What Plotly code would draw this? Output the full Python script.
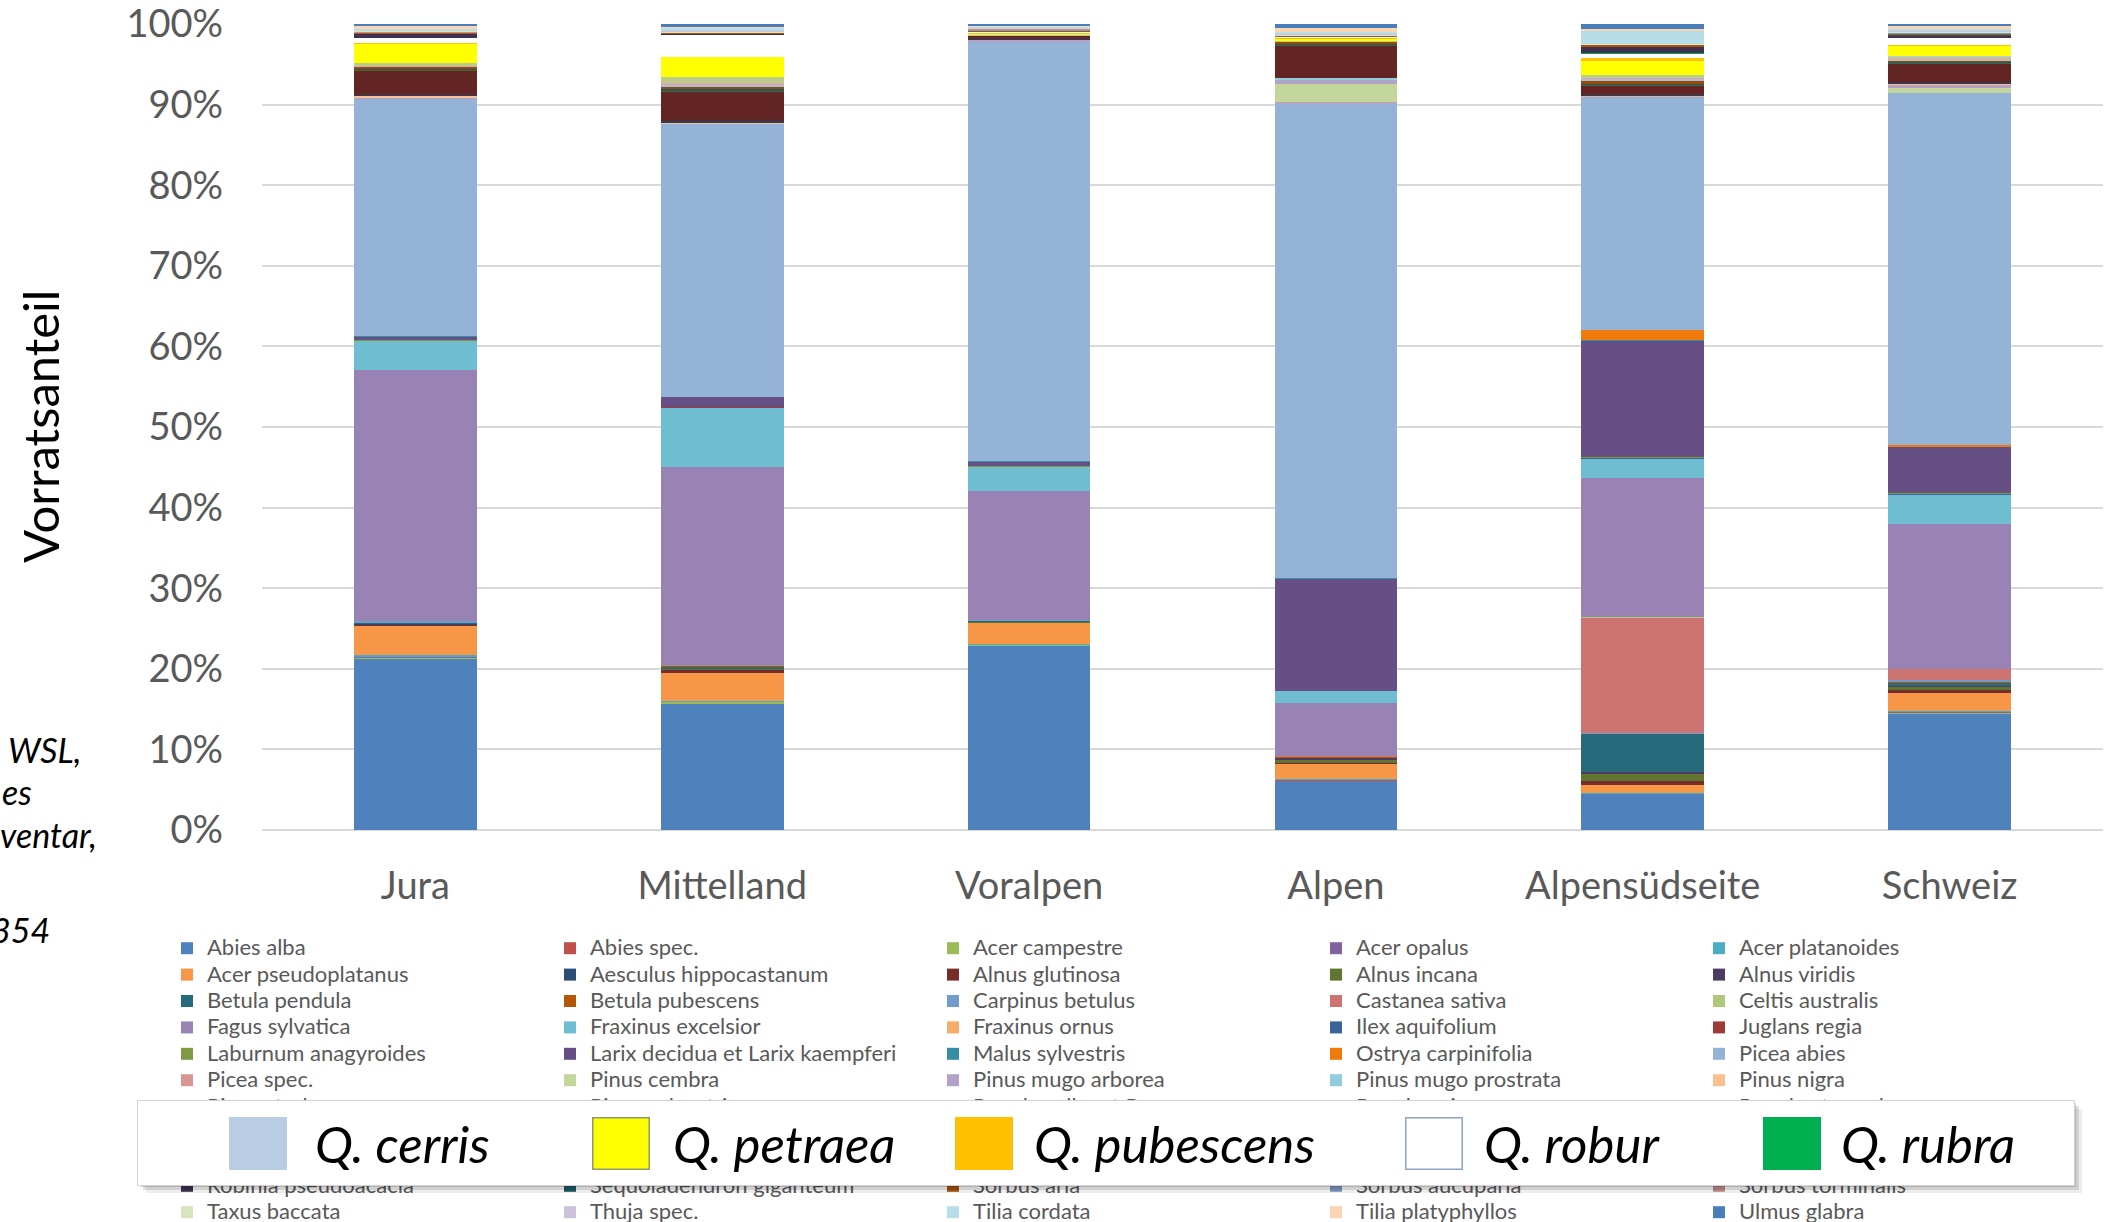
import plotly.graph_objects as go

W, H = 2114, 1222
PL, PR, PT, PB = 262, 2103, 24, 830

regions = ["Jura", "Mittelland", "Voralpen", "Alpen", "Alpensüdseite", "Schweiz"]

species = [
    "Abies alba", "Abies spec.", "Acer campestre", "Acer opalus", "Acer platanoides",
    "Acer pseudoplatanus", "Aesculus hippocastanum", "Alnus glutinosa", "Alnus incana", "Alnus viridis",
    "Betula pendula", "Betula pubescens", "Carpinus betulus", "Castanea sativa", "Celtis australis",
    "Fagus sylvatica", "Fraxinus excelsior", "Fraxinus ornus", "Ilex aquifolium", "Juglans regia",
    "Laburnum anagyroides", "Larix decidua et Larix kaempferi", "Malus sylvestris", "Ostrya carpinifolia", "Picea abies",
    "Picea spec.", "Pinus cembra", "Pinus mugo arborea", "Pinus mugo prostrata", "Pinus nigra",
    "Pinus strobus", "Pinus sylvestris", "Populus alba et P. canescens", "Populus nigra", "Populus tremula",
    "Prunus avium", "Prunus padus", "Prunus spec.", "Pseudotsuga menziesii", "Quercus cerris",
    "Quercus petraea", "Quercus pubescens", "Quercus robur", "Quercus rubra", "Quercus spec.",
    "Robinia pseudoacacia", "Sequoiadendron giganteum", "Sorbus aria", "Sorbus aucuparia", "Sorbus torminalis",
    "Taxus baccata", "Thuja spec.", "Tilia cordata", "Tilia platyphyllos", "Ulmus glabra",
]

colors = [
    "#4F81BD", "#C0504D", "#9BBB59", "#8064A2", "#4BACC6",
    "#F79646", "#2C4D75", "#772C2A", "#5F7530", "#4D3B62",
    "#276A7C", "#B65708", "#729ACA", "#CD7371", "#AFC97A",
    "#9983B5", "#6FBDD1", "#F9AB6B", "#3A6398", "#9E3B38",
    "#7E9A45", "#664F84", "#358DA5", "#F17A0C", "#95B3D7",
    "#D99694", "#C3D69B", "#B3A2C7", "#93CDDD", "#FAC090",
    "#254061", "#632523", "#4F6228", "#3F3151", "#215968",
    "#984807", "#A7BFDE", "#E2A9A7", "#BBCC8A", "#B8CCE4",
    "#FFFF00", "#FFC000", "#FFFFFF", "#00B050", "#8AA15C",
    "#403152", "#1F5B6A", "#A9550F", "#7E9CC8", "#C4908E",
    "#D7E4BD", "#CCC1DA", "#B7DEE8", "#FCD5B5", "#4A7EBB",
]

jura = [
    21.3, 0.05, 0.1, 0.1, 0.2, 3.7,
    0.05, 0.1, 0.05, 0.0, 0.1, 0.0,
    0.2, 0.0, 0.0, 31.2, 3.7, 0.0,
    0.0, 0.02, 0.05, 0.4, 0.02, 0.0,
    29.6, 0.0, 0.0, 0.05, 0.0, 0.3,
    0.05, 3.1, 0.05, 0.05, 0.1, 0.2,
    0.1, 0.05, 0.3, 0.0, 2.4, 0.05,
    0.7, 0.02, 0.0, 0.4, 0.0, 0.25,
    0.05, 0.05, 0.15, 0.0, 0.2, 0.3,
    0.3,
]
mittelland = [
    15.8, 0.05, 0.15, 0.02, 0.1, 3.5,
    0.02, 0.4, 0.05, 0.0, 0.3, 0.02,
    0.3, 0.05, 0.0, 24.6, 7.4, 0.0,
    0.02, 0.05, 0.02, 1.2, 0.03, 0.0,
    34.1, 0.02, 0.0, 0.0, 0.0, 0.1,
    0.15, 3.7, 0.1, 0.05, 0.2, 0.3,
    0.2, 0.2, 0.8, 0.02, 2.5, 0.02,
    2.7, 0.1, 0.0, 0.1, 0.02, 0.05,
    0.05, 0.02, 0.1, 0.02, 0.5, 0.05,
    0.35,
]
voralpen = [
    22.9, 0.02, 0.05, 0.05, 0.1, 2.6,
    0.0, 0.05, 0.1, 0.05, 0.05, 0.02,
    0.05, 0.0, 0.0, 16.1, 3.0, 0.0,
    0.05, 0.0, 0.05, 0.5, 0.02, 0.0,
    52.1, 0.0, 0.02, 0.25, 0.02, 0.02,
    0.02, 0.4, 0.02, 0.02, 0.05, 0.02,
    0.02, 0.02, 0.05, 0.0, 0.15, 0.02,
    0.2, 0.0, 0.0, 0.02, 0.0, 0.1,
    0.15, 0.02, 0.1, 0.02, 0.15, 0.05,
    0.3,
]
alpen = [
    6.2, 0.02, 0.02, 0.02, 0.05, 2.0,
    0.0, 0.05, 0.45, 0.15, 0.1, 0.05,
    0.02, 0.05, 0.0, 6.6, 1.5, 0.0,
    0.0, 0.0, 0.05, 13.9, 0.02, 0.0,
    59.15, 0.02, 2.3, 0.55, 0.2, 0.02,
    0.0, 4.0, 0.1, 0.05, 0.1, 0.2,
    0.02, 0.02, 0.05, 0.0, 0.3, 0.1,
    0.15, 0.0, 0.0, 0.02, 0.0, 0.05,
    0.1, 0.02, 0.05, 0.02, 0.35, 0.45,
    0.5,
]
alpensuedseite = [
    4.5, 0.02, 0.05, 0.02, 0.05, 1.0,
    0.02, 0.5, 0.8, 0.3, 4.7, 0.05,
    0.05, 14.4, 0.05, 17.3, 2.4, 0.1,
    0.05, 0.05, 0.1, 14.5, 0.02, 1.2,
    29.0, 0.1, 0.05, 0.02, 0.02, 0.02,
    0.05, 1.25, 0.05, 0.05, 0.05, 0.4,
    0.33, 0.05, 0.37, 0.02, 1.65, 0.45,
    0.5, 0.05, 0.0, 0.8, 0.02, 0.25,
    0.05, 0.02, 0.05, 0.02, 1.6, 0.25,
    0.6,
]
schweiz = [
    14.6, 0.05, 0.1, 0.05, 0.1, 2.3,
    0.02, 0.3, 0.4, 0.1, 0.5, 0.05,
    0.2, 1.4, 0.02, 18.1, 3.7, 0.05,
    0.05, 0.05, 0.05, 5.8, 0.02, 0.2,
    44.1, 0.05, 0.6, 0.35, 0.1, 0.1,
    0.05, 2.5, 0.05, 0.05, 0.1, 0.15,
    0.1, 0.1, 0.3, 0.05, 1.3, 0.1,
    0.9, 0.05, 0.0, 0.2, 0.02, 0.25,
    0.1, 0.05, 0.1, 0.02, 0.35, 0.25,
    0.3,
]

y_ticks = [0, 10, 20, 30, 40, 50, 60, 70, 80, 90, 100]
y_ticktext = ["0%", "10%", "20%", "30%", "40%", "50%", "60%", "70%", "80%", "90%", "100%"]

quercus_labels = ["Q. cerris", "Q. petraea", "Q. pubescens", "Q. robur", "Q. rubra"]
quercus_colors = ["#B8CCE4", "#FFFF00", "#FFC000", "#FFFFFF", "#00B050"]
quercus_borders = ["#B8CCE4", "#8C9A6A", "#FFC000", "#8EA4C4", "#00B050"]

region_values = [jura, mittelland, voralpen, alpen, alpensuedseite, schweiz]


def px_x(px):
    return (px - PL) / (PR - PL)


def px_y(py):
    return (PB - py) / (PB - PT)


fig = go.Figure()
for i, name in enumerate(species):
    fig.add_trace(go.Bar(
        x=regions,
        y=[vals[i] for vals in region_values],
        name='<span style="font-size:22px">' + name + "</span>",
        marker=dict(color=colors[i], line=dict(width=0)),
        hoverinfo="skip",
    ))

annotations = []
# y axis title
annotations.append(dict(
    text="Vorratsanteil", xref="paper", yref="paper", x=px_x(40), y=0.5,
    xanchor="center", yanchor="middle", textangle=-90, showarrow=False,
    font=dict(family="Lato", size=49, color="#000000"),
))
# cut-off source text on the left
for txt, right, cy in [("WSL,", 82, 749), ("es", 33, 791), ("ventar,", 98, 834), ("354", 51, 929)]:
    annotations.append(dict(
        text="<i>" + txt + "</i>", xref="paper", yref="paper", x=px_x(right), y=px_y(cy),
        xanchor="right", yanchor="middle", showarrow=False, borderpad=0,
        font=dict(family="Lato", size=34, color="#000000"),
    ))

# overlay legend box (shadow + white box)
bx0, bx1, by0, by1 = 137, 2073, 1100, 1184
for off, col in [(9, "rgba(0,0,0,0.07)"), (6, "rgba(0,0,0,0.12)"), (3, "rgba(0,0,0,0.15)")]:
    annotations.append(dict(
        text="", xref="paper", yref="paper", x=px_x(bx0 + off), y=px_y(by0 + off),
        xanchor="left", yanchor="top", showarrow=False, width=bx1 - bx0, height=by1 - by0,
        bgcolor=col, borderpad=0, borderwidth=0,
    ))
annotations.append(dict(
    text="", xref="paper", yref="paper", x=px_x(bx0), y=px_y(by0),
    xanchor="left", yanchor="top", showarrow=False, width=bx1 - bx0, height=by1 - by0,
    bgcolor="#FFFFFF", bordercolor="#D4D4D4", borderwidth=1, borderpad=0,
))
sw_left = [229, 592, 955, 1405, 1763]
tx_left = [314, 672, 1033, 1483, 1840]
for k, lab in enumerate(quercus_labels):
    annotations.append(dict(
        text="", xref="paper", yref="paper", x=px_x(sw_left[k]), y=px_y(1117),
        xanchor="left", yanchor="top", showarrow=False, width=55, height=50,
        bgcolor=quercus_colors[k], bordercolor=quercus_borders[k], borderwidth=1.5, borderpad=0,
    ))
    annotations.append(dict(
        text="<i>" + lab + "</i>", xref="paper", yref="paper", x=px_x(tx_left[k]), y=px_y(1143),
        xanchor="left", yanchor="middle", showarrow=False, borderpad=0,
        font=dict(family="Lato", size=51, color="#000000"),
    ))

fig.update_layout(
    width=W, height=H,
    barmode="stack", barnorm="percent", bargap=0.6,
    paper_bgcolor="#FFFFFF", plot_bgcolor="#FFFFFF",
    margin=dict(l=PL, r=W - PR, t=PT, b=H - PB, autoexpand=False),
    font=dict(family="Lato", color="#595959"),
    xaxis=dict(
        showgrid=False, showline=False, zeroline=False, ticks="",
        tickfont=dict(family="Lato", size=38, color="#595959"),
        ticklabelstandoff=30,
    ),
    yaxis=dict(
        range=[0, 100], tickmode="array", tickvals=y_ticks, ticktext=y_ticktext,
        showgrid=True, gridcolor="#D9D9D9", gridwidth=2,
        zeroline=True, zerolinecolor="#D9D9D9", zerolinewidth=2,
        showline=False, ticks="",
        tickfont=dict(family="Lato", size=38, color="#595959"),
        ticklabelstandoff=38, ticklabeloverflow="allow",
    ),
    showlegend=True,
    legend=dict(
        orientation="h", x=px_x(167), xanchor="left", y=px_y(930), yanchor="top",
        entrywidth=338, entrywidthmode="pixels", traceorder="normal",
        font=dict(family="Lato", size=18, color="#595959"),
        bgcolor="rgba(0,0,0,0)", borderwidth=0,
    ),
    annotations=annotations,
)

fig.write_html(
    "out.html",
    config={"displayModeBar": False},
    post_script="document.body.style.margin='0';document.body.style.padding='0';",
)
